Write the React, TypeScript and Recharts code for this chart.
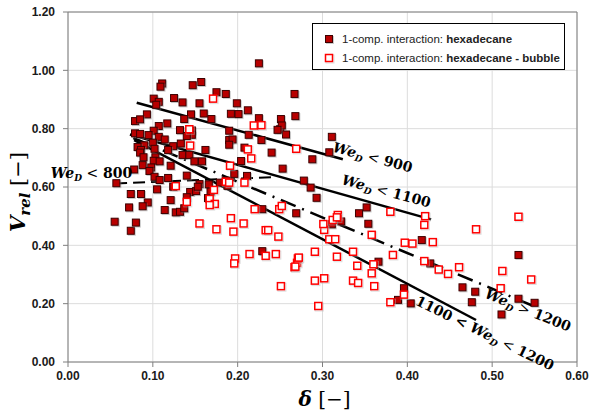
import {
  CartesianGrid,
  Legend,
  ReferenceDot,
  ReferenceLine,
  Scatter,
  ScatterChart,
  XAxis,
  YAxis,
} from "recharts";

// [delta, V_rel]
const HEXADECANE: [number, number][] = [
  [0.225, 1.024], [0.111, 0.955], [0.109, 0.944], [0.157, 0.96], [0.147, 0.949], [0.175, 0.925],
  [0.186, 0.919], [0.267, 0.919], [0.101, 0.903], [0.107, 0.892], [0.104, 0.882], [0.125, 0.905],
  [0.135, 0.89], [0.155, 0.887], [0.199, 0.887], [0.192, 0.851], [0.201, 0.85], [0.16, 0.852],
  [0.145, 0.849], [0.212, 0.863], [0.268, 0.843], [0.225, 0.836], [0.251, 0.833], [0.169, 0.833],
  [0.137, 0.833], [0.093, 0.849], [0.079, 0.826], [0.085, 0.832], [0.117, 0.818], [0.107, 0.809],
  [0.101, 0.793], [0.132, 0.795], [0.146, 0.794], [0.146, 0.779], [0.14, 0.775], [0.19, 0.793],
  [0.25, 0.798], [0.252, 0.811], [0.257, 0.78], [0.213, 0.779], [0.079, 0.784], [0.085, 0.782],
  [0.095, 0.778], [0.107, 0.772], [0.114, 0.763], [0.1, 0.752], [0.09, 0.743], [0.082, 0.737],
  [0.086, 0.727], [0.085, 0.718], [0.089, 0.702], [0.102, 0.731], [0.124, 0.74], [0.133, 0.749],
  [0.118, 0.727], [0.135, 0.71], [0.143, 0.71], [0.162, 0.727], [0.19, 0.761], [0.194, 0.763],
  [0.228, 0.761], [0.208, 0.735], [0.24, 0.718], [0.204, 0.689], [0.196, 0.645], [0.211, 0.638],
  [0.253, 0.663], [0.149, 0.688], [0.158, 0.688], [0.121, 0.673], [0.103, 0.702], [0.101, 0.69],
  [0.108, 0.688], [0.098, 0.667], [0.088, 0.675], [0.078, 0.66], [0.096, 0.655], [0.102, 0.635],
  [0.108, 0.624], [0.118, 0.631], [0.14, 0.639], [0.124, 0.601], [0.105, 0.592], [0.074, 0.576],
  [0.086, 0.576], [0.094, 0.547], [0.072, 0.53], [0.155, 0.61], [0.166, 0.609], [0.144, 0.583],
  [0.151, 0.586], [0.153, 0.601], [0.168, 0.584], [0.165, 0.562], [0.14, 0.565], [0.179, 0.615],
  [0.188, 0.604], [0.055, 0.481], [0.074, 0.45], [0.08, 0.478], [0.088, 0.534], [0.114, 0.521],
  [0.121, 0.555], [0.127, 0.513], [0.132, 0.515], [0.137, 0.527], [0.229, 0.524], [0.229, 0.38],
  [0.269, 0.51], [0.343, 0.51], [0.352, 0.53], [0.354, 0.474], [0.311, 0.472], [0.322, 0.482],
  [0.366, 0.344], [0.417, 0.418], [0.427, 0.338], [0.396, 0.253], [0.389, 0.213], [0.404, 0.201],
  [0.465, 0.256], [0.48, 0.241], [0.476, 0.205], [0.511, 0.163], [0.531, 0.367], [0.531, 0.217],
  [0.55, 0.203], [0.311, 0.772], [0.308, 0.719], [0.288, 0.695], [0.278, 0.622], [0.286, 0.598],
  [0.293, 0.563], [0.247, 0.796], [0.19, 0.745], [0.186, 0.622], [0.057, 0.613],
];

const BUBBLE: [number, number][] = [
  [0.171, 0.903], [0.143, 0.798], [0.219, 0.811], [0.228, 0.812], [0.144, 0.742], [0.212, 0.729],
  [0.216, 0.698], [0.191, 0.673], [0.127, 0.603], [0.172, 0.59], [0.14, 0.549], [0.167, 0.559],
  [0.173, 0.542], [0.167, 0.538], [0.186, 0.618], [0.208, 0.615], [0.22, 0.524], [0.155, 0.475],
  [0.175, 0.455], [0.192, 0.493], [0.195, 0.447], [0.207, 0.475], [0.214, 0.37], [0.197, 0.355],
  [0.196, 0.338], [0.233, 0.452], [0.236, 0.452], [0.233, 0.364], [0.248, 0.43], [0.249, 0.524],
  [0.252, 0.535], [0.245, 0.37], [0.251, 0.26], [0.267, 0.325], [0.27, 0.34], [0.271, 0.355],
  [0.269, 0.731], [0.531, 0.498], [0.481, 0.455], [0.512, 0.312], [0.51, 0.253], [0.546, 0.283],
  [0.421, 0.5], [0.42, 0.47], [0.38, 0.515], [0.397, 0.409], [0.406, 0.406], [0.43, 0.411],
  [0.42, 0.346], [0.437, 0.317], [0.448, 0.302], [0.461, 0.325], [0.383, 0.367], [0.38, 0.205],
  [0.396, 0.231], [0.358, 0.436], [0.36, 0.335], [0.358, 0.304], [0.361, 0.26], [0.341, 0.33],
  [0.336, 0.378], [0.336, 0.279], [0.342, 0.271], [0.317, 0.361], [0.308, 0.421], [0.315, 0.421],
  [0.302, 0.453], [0.301, 0.473], [0.312, 0.487], [0.318, 0.504], [0.317, 0.496], [0.291, 0.378],
  [0.272, 0.358], [0.291, 0.279], [0.302, 0.287], [0.295, 0.192], [0.268, 0.327], [0.19, 0.615],
];

// fit lines: [[x1, y1], [x2, y2]]
const FIT_800: [number, number][] = [[0.0555, 0.612], [0.242, 0.634]];
const FIT_900: [number, number][] = [[0.081, 0.889], [0.324, 0.695]];
const FIT_1100: [number, number][] = [[0.073, 0.78], [0.428, 0.489]];
const FIT_1100_1200: [number, number][] = [[0.078, 0.761], [0.481, 0.144]];
const FIT_1200: [number, number][] = [[0.077, 0.768], [0.551, 0.189]];

const X_TICKS = [0, 0.1, 0.2, 0.3, 0.4, 0.5, 0.6];
const Y_TICKS = [0, 0.2, 0.4, 0.6, 0.8, 1.0, 1.2];

const SERIES_PREFIX = "1-comp. interaction: ";
const SERIES_NAMES = ["hexadecane", "hexadecane - bubble"];

const hexData = HEXADECANE.map(([x, y]) => ({ x, y }));
const bubbleData = BUBBLE.map(([x, y]) => ({ x, y }));
const seg = (l: [number, number][]) => l.map(([x, y]) => ({ x, y }));

const MATH_FONT = "'DejaVu Serif', serif";

function FilledSquare(props: any) {
  const { cx, cy } = props;
  if (cx == null || cy == null) return null;
  return (
    <g>
      <rect x={cx - 3} y={cy - 3} width={8} height={8} fill="#8a8a8a" opacity={0.45} />
      <rect x={cx - 3.5} y={cy - 3.5} width={7} height={7} fill="#b80000" stroke="#3d0000" strokeWidth={1} />
    </g>
  );
}

function HollowSquare(props: any) {
  const { cx, cy } = props;
  if (cx == null || cy == null) return null;
  return (
    <g>
      <rect x={cx - 3} y={cy - 3} width={8} height={8} fill="none" stroke="#bbbbbb" strokeWidth={1} opacity={0.5} />
      <rect x={cx - 3.5} y={cy - 3.5} width={7} height={7} fill="#ffffff" stroke="#ff0000" strokeWidth={1.5} />
    </g>
  );
}

// one We_D annotation, rotated about its centre
function anno(pre: string, op: string, angle: number) {
  return (p: any) => {
    const vb = p.viewBox || {};
    const cx = vb.x;
    const cy = vb.y;
    const [sign, num] = op.split(" ");
    return (
      <text
        x={cx}
        y={cy}
        transform={`rotate(${angle} ${cx} ${cy})`}
        textAnchor="middle"
        dominantBaseline="middle"
        fontFamily={MATH_FONT}
        fontWeight="bold"
        fontSize={14}
        fill="#000"
      >
        {pre && <tspan>{pre}</tspan>}
        <tspan fontStyle="italic">We</tspan>
        <tspan fontStyle="italic" fontSize={9} dy={4}>D</tspan>
        <tspan dy={-4} fontWeight="normal">{" "}{sign}</tspan>
        <tspan>{" "}{num}</tspan>
      </text>
    );
  };
}

function YLabel(p: any) {
  const vb = p.viewBox;
  const x = vb.x + 25;
  const y = vb.y + vb.height / 2 + 5;
  return (
    <text x={x} y={y} transform={`rotate(-90 ${x} ${y})`} textAnchor="middle" fontFamily={MATH_FONT} fontSize={21} fill="#000">
      <tspan fontWeight="bold" fontStyle="italic">V</tspan>
      <tspan fontWeight="bold" fontStyle="italic" fontSize={15} dy={5}>rel</tspan>
      <tspan dy={-5}>{" [−]"}</tspan>
    </text>
  );
}

function XLabel(p: any) {
  const vb = p.viewBox;
  const x = vb.x + vb.width / 2 + 2;
  const y = vb.y + 44;
  return (
    <text x={x} y={y} textAnchor="middle" fontFamily={MATH_FONT} fontSize={20} fill="#000">
      <tspan fontWeight="bold" fontStyle="italic">δ</tspan>
      <tspan>{" [−]"}</tspan>
    </text>
  );
}

function LegendBox(props: any) {
  const payload = props.payload || [];
  return (
    <div
      style={{
        border: "1px solid #000",
        background: "#fff",
        boxSizing: "border-box",
        width: 253,
        height: 47,
        padding: "5px 0 0 10px",
        fontFamily: "'Liberation Sans', Arial, sans-serif",
        fontSize: 11.5,
        color: "#222",
      }}
    >
      {payload.map((entry: any, i: number) => (
        <div key={i} style={{ display: "flex", alignItems: "center", height: 19, whiteSpace: "nowrap" }}>
          <svg width={19} height={12} style={{ flex: "none" }}>
            {i === 0 ? <FilledSquare cx={6} cy={6} /> : <HollowSquare cx={6} cy={6} />}
          </svg>
          <span>
            {SERIES_PREFIX}
            <b>{SERIES_NAMES[i] ?? entry.value}</b>
          </span>
        </div>
      ))}
    </div>
  );
}

const axisTick = { fontSize: 12, fontWeight: "bold", fill: "#1a1a1a", fontFamily: "'Liberation Sans', Arial, sans-serif" };

export default function App() {
  return (
    <div style={{ position: "absolute", left: 0, top: 0, width: 591, height: 416, background: "#fff" }}>
      <ScatterChart width={591} height={416} margin={{ top: 12, right: 14, bottom: 0, left: 0 }}>
        <CartesianGrid stroke="#dcdcdc" />
        <XAxis
          type="number"
          dataKey="x"
          domain={[0, 0.6]}
          ticks={X_TICKS}
          tickFormatter={(v: number) => v.toFixed(2)}
          tick={axisTick}
          stroke="#7f7f7f"
          tickSize={5}
          tickMargin={4}
          height={54}
          label={XLabel}
        />
        <YAxis
          type="number"
          dataKey="y"
          domain={[0, 1.2]}
          ticks={Y_TICKS}
          tickFormatter={(v: number) => v.toFixed(2)}
          tick={axisTick}
          stroke="#7f7f7f"
          tickSize={5}
          tickMargin={8}
          width={68}
          label={YLabel}
        />
        <ReferenceLine x={0.6} stroke="#7f7f7f" />
        <ReferenceLine y={1.2} stroke="#7f7f7f" />
        <Scatter name={SERIES_PREFIX + SERIES_NAMES[0]} data={hexData} fill="#b80000" shape={FilledSquare} isAnimationActive={false} />
        <Scatter name={SERIES_PREFIX + SERIES_NAMES[1]} data={bubbleData} fill="#ff0000" shape={HollowSquare} isAnimationActive={false} />
        <ReferenceLine segment={seg(FIT_800)} stroke="#000" strokeWidth={2} strokeDasharray="12 6" />
        <ReferenceLine segment={seg(FIT_900)} stroke="#000" strokeWidth={2.5} />
        <ReferenceLine segment={seg(FIT_1100)} stroke="#000" strokeWidth={2.5} />
        <ReferenceLine segment={seg(FIT_1100_1200)} stroke="#000" strokeWidth={2.5} />
        <ReferenceLine segment={seg(FIT_1200)} stroke="#000" strokeWidth={2.5} strokeDasharray="16 7 2 7" />
        <ReferenceDot x={0.0277} y={0.645} r={0} ifOverflow="visible" label={anno("", "< 800", 0)} />
        <ReferenceDot x={0.359} y={0.699} r={0} label={anno("", "< 900", 15)} />
        <ReferenceDot x={0.375} y={0.583} r={0} label={anno("", "< 1100", 15)} />
        <ReferenceDot x={0.542} y={0.175} r={0} label={anno("", "> 1200", 22)} />
        <ReferenceDot x={0.491} y={0.096} r={0} label={anno("1100 < ", "< 1200", 26)} />
        <Legend
          layout="vertical"
          align="center"
          verticalAlign="middle"
          content={LegendBox}
          wrapperStyle={{ left: 312, top: 23, width: 253, height: 47 }}
        />
      </ScatterChart>
    </div>
  );
}
